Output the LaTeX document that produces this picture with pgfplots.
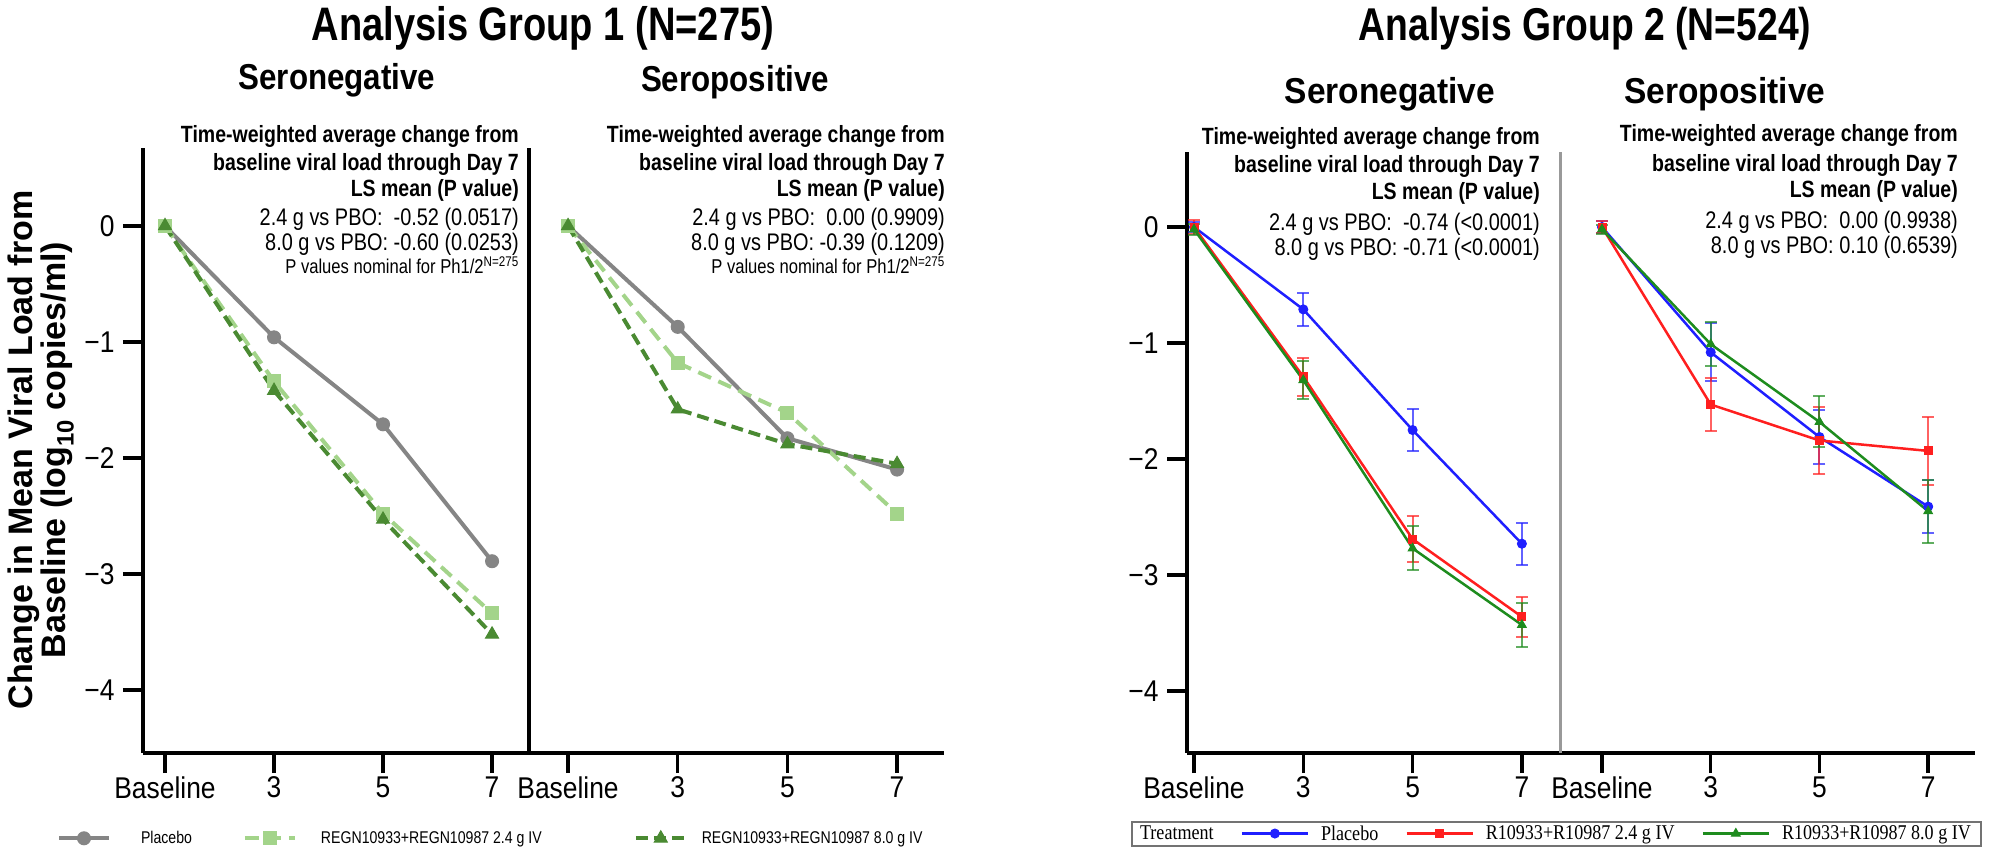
\documentclass[border=0pt]{standalone}
\usepackage{fontspec}
\setmainfont{Liberation Sans}
\newfontfamily\nar{Liberation Sans}[FakeStretch=0.83]
\newfontfamily\tickf{Liberation Sans}[FakeStretch=0.88]
\newfontfamily\legser{Liberation Serif}[FakeStretch=0.86]
\newfontfamily\titA{Liberation Sans}[FakeStretch=0.81]
\newfontfamily\subA{Liberation Sans}[FakeStretch=0.87]
\newfontfamily\subB{Liberation Sans}[FakeStretch=0.93]
\usepackage{pgfplots}
\pgfplotsset{compat=1.18}
\definecolor{pbo}{HTML}{858585}
\definecolor{lgreen}{HTML}{A3D48A}
\definecolor{dgreen}{HTML}{4A8A32}
\definecolor{sblue}{HTML}{1F1FFF}
\definecolor{sred}{HTML}{FF1F1F}
\definecolor{sgreen}{HTML}{1E8C1E}
\pgfplotsset{
  panel/.style={scale only axis, anchor=south west, axis lines=left,
    axis line style={-, line width=3.5bp, black},
    tick align=outside, tick style={line width=3.5bp, black},
    major tick length=20bp,
    xtick={0,1,2,3}, xticklabels={Baseline,3,5,7},
    ytick={-4,-3,-2,-1,0}, yticklabels={−4,−3,−2,−1,0},
    ticklabel style={font=\tickf\fontsize{30bp}{30bp}\selectfont},
    yticklabel style={xshift=-5bp},
    clip=false},
  gp/.style={#1, line width=4bp, mark options={solid, line width=1bp}},
  sas/.style={#1, line width=2.5bp, mark options={solid, line width=1bp},
    /pgfplots/error bars/y dir=both, /pgfplots/error bars/y explicit,
    /pgfplots/error bars/error bar style={line width=2bp, opacity=0.7},
    /pgfplots/error bars/error mark options={rotate=90, line width=2bp, mark size=6bp, opacity=0.7}},
}
\newcommand\ann[4]{\node[anchor=base east, inner sep=0pt, font=#3] at (#1,#2) {#4};}
\newcommand\bfa{\nar\bfseries\fontsize{23.5bp}{24bp}\selectfont}
\newcommand\rga{\nar\fontsize{24bp}{24bp}\selectfont}
\newcommand\sma{\nar\fontsize{20bp}{20bp}\selectfont}
\begin{document}
\begin{tikzpicture}[x=1bp, y=1bp]
\useasboundingbox (0,0) rectangle (1994,852);

% ---------------- Analysis group 1 ----------------
\begin{axis}[panel, at={(143bp,99bp)}, width=386bp, height=605bp,
  xmin=-0.202, xmax=3.339, ymin=-4.543, ymax=0.672,
  legend columns=3,
  legend style={at={(axis description cs:-0.2228,-0.1405)}, anchor=west,
    draw=none, fill=none, inner sep=0pt, outer sep=0pt, column sep=0pt,
    nodes={inner sep=0pt, font=\nar\fontsize{17bp}{17bp}\selectfont},
    /tikz/column 1/.style={column sep=30bp},
    /tikz/column 2/.style={column sep=51bp},
    /tikz/column 3/.style={column sep=24bp},
    /tikz/column 4/.style={column sep=92bp},
    /tikz/column 5/.style={column sep=14bp}},
  legend image code/.code={\draw[mark repeat=2, mark phase=2, #1]
    plot coordinates {(0bp,0bp) (25bp,0bp) (50bp,0bp)};}]
  \addplot[gp=pbo, mark=*, mark size=6.5bp] coordinates {(0,0) (1,-0.96) (2,-1.71) (3,-2.89)};
  \addplot[gp=lgreen, dash pattern=on 14bp off 8bp, mark=square*, mark size=6.5bp] coordinates {(0,0) (1,-1.34) (2,-2.48) (3,-3.34)};
  \addplot[gp=dgreen, dash pattern=on 12bp off 6bp, mark=triangle*, mark size=7.5bp] coordinates {(0,0) (1,-1.42) (2,-2.53) (3,-3.52)};
  \legend{Placebo, REGN10933+REGN10987 2.4 g IV, REGN10933+REGN10987 8.0 g IV}
\end{axis}

\begin{axis}[panel, at={(529bp,99bp)}, width=415bp, height=605bp,
  xmin=-0.356, xmax=3.428, ymin=-4.543, ymax=0.672, ytick=\empty]
  \addplot[gp=pbo, mark=*, mark size=6.5bp] coordinates {(0,0) (1,-0.87) (2,-1.83) (3,-2.10)};
  \addplot[gp=lgreen, dash pattern=on 14bp off 8bp, mark=square*, mark size=6.5bp] coordinates {(0,0) (1,-1.18) (2,-1.61) (3,-2.48)};
  \addplot[gp=dgreen, dash pattern=on 12bp off 6bp, mark=triangle*, mark size=7.5bp] coordinates {(0,0) (1,-1.58) (2,-1.88) (3,-2.05)};
\end{axis}

% ---------------- Analysis group 2 ----------------
\begin{axis}[panel, at={(1187bp,99bp)}, width=373bp, height=601bp,
  xmin=-0.064, xmax=3.349, ymin=-4.534, ymax=0.647,
  legend columns=4,
  legend style={at={(axis description cs:-0.150,-0.134)}, anchor=west,
    draw=black!55, line width=2bp, fill=white, inner xsep=10bp, inner ysep=4bp,
    nodes={inner sep=0pt, font=\legser\fontsize{21bp}{21bp}\selectfont},
    /tikz/every odd column/.append style={column sep=12bp},
    /tikz/every even column/.append style={column sep=27bp}},
  legend image code/.code={\draw[mark repeat=2, mark phase=2, #1]
    plot coordinates {(0bp,0bp) (33bp,0bp) (66bp,0bp)};}]
  \addlegendimage{empty legend}
  \addlegendentry{\hspace*{-14bp}Treatment}
  \addplot[sas=sblue, mark=*, mark size=4.5bp] coordinates {(0,0) +- (0,0.04) (1,-0.71) +- (0,0.14) (2,-1.75) +- (0,0.18) (3,-2.73) +- (0,0.18)};
  \addlegendentry{Placebo}
  \addplot[sas=sred, mark=square*, mark size=4bp] coordinates {(0,0) +- (0,0.06) (1,-1.29) +- (0,0.165) (2,-2.69) +- (0,0.20) (3,-3.36) +- (0,0.17)};
  \addlegendentry{R10933+R10987 2.4 g IV}
  \addplot[sas=sgreen, mark=triangle*, mark size=5bp] coordinates {(0,-0.02) +- (0,0.05) (1,-1.32) +- (0,0.165) (2,-2.77) +- (0,0.19) (3,-3.43) +- (0,0.19)};
  \addlegendentry{R10933+R10987 8.0 g IV}
\end{axis}

\begin{axis}[panel, at={(1560bp,99bp)}, width=415bp, height=601bp,
  xmin=-0.386, xmax=3.431, ymin=-4.534, ymax=0.647, ytick=\empty,
  y axis line style={line width=3bp, black!40}]
  \addplot[sas=sblue, mark=*, mark size=4.5bp] coordinates {(0,0) +- (0,0.05) (1,-1.08) +- (0,0.25) (2,-1.81) +- (0,0.23) (3,-2.41) +- (0,0.23)};
  \addplot[sas=sred, mark=square*, mark size=4bp] coordinates {(0,0) +- (0,0.05) (1,-1.53) +- (0,0.23) (2,-1.84) +- (0,0.29) (3,-1.93) +- (0,0.29)};
  \addplot[sas=sgreen, mark=triangle*, mark size=5bp] coordinates {(0,-0.02) +- (0,0.04) (1,-1.01) +- (0,0.19) (2,-1.68) +- (0,0.22) (3,-2.45) +- (0,0.27)};
\end{axis}

% ---------------- text ----------------
\node[rotate=90, align=center, font=\bfseries\fontsize{34bp}{33bp}\selectfont] at (41,402)
  {Change in Mean Viral Load from\\Baseline (log\textsubscript{10} copies/ml)};

\node[anchor=base, inner sep=0pt, font=\titA\bfseries\fontsize{47bp}{47bp}\selectfont] at (543,811) {Analysis Group 1 (N=275)};
\node[anchor=base, inner sep=0pt, font=\titA\bfseries\fontsize{46bp}{46bp}\selectfont] at (1585,811) {Analysis Group 2 (N=524)};
\node[anchor=base, inner sep=0pt, font=\subA\bfseries\fontsize{36bp}{36bp}\selectfont] at (337,762) {Seronegative};
\node[anchor=base, inner sep=0pt, font=\subA\bfseries\fontsize{36bp}{36bp}\selectfont] at (735,760) {Seropositive};
\node[anchor=base, inner sep=0pt, font=\subB\bfseries\fontsize{36bp}{36bp}\selectfont] at (1390,748) {Seronegative};
\node[anchor=base, inner sep=0pt, font=\subB\bfseries\fontsize{36bp}{36bp}\selectfont] at (1725,748) {Seropositive};

\ann{519}{709}{\bfa}{Time-weighted average change from}
\ann{519}{681}{\bfa}{baseline viral load through Day 7}
\ann{519}{655}{\bfa}{LS mean (P value)}
\ann{519}{626}{\rga}{2.4 g vs PBO:\ \ -0.52 (0.0517)}
\ann{519}{601}{\rga}{8.0 g vs PBO: -0.60 (0.0253)}
\ann{519}{578}{\sma}{P values nominal for Ph1/2\textsuperscript{N=275}}

\ann{945}{709}{\bfa}{Time-weighted average change from}
\ann{945}{681}{\bfa}{baseline viral load through Day 7}
\ann{945}{655}{\bfa}{LS mean (P value)}
\ann{945}{626}{\rga}{2.4 g vs PBO:\ \ 0.00 (0.9909)}
\ann{945}{601}{\rga}{8.0 g vs PBO: -0.39 (0.1209)}
\ann{945}{578}{\sma}{P values nominal for Ph1/2\textsuperscript{N=275}}

\ann{1540}{707}{\bfa}{Time-weighted average change from}
\ann{1540}{679}{\bfa}{baseline viral load through Day 7}
\ann{1540}{652}{\bfa}{LS mean (P value)}
\ann{1540}{621}{\rga}{2.4 g vs PBO:\ \ -0.74 (<0.0001)}
\ann{1540}{596}{\rga}{8.0 g vs PBO: -0.71 (<0.0001)}

\ann{1958}{710}{\bfa}{Time-weighted average change from}
\ann{1958}{680}{\bfa}{baseline viral load through Day 7}
\ann{1958}{654}{\bfa}{LS mean (P value)}
\ann{1958}{623}{\rga}{2.4 g vs PBO:\ \ 0.00 (0.9938)}
\ann{1958}{598}{\rga}{8.0 g vs PBO: 0.10 (0.6539)}
\end{tikzpicture}
\end{document}
